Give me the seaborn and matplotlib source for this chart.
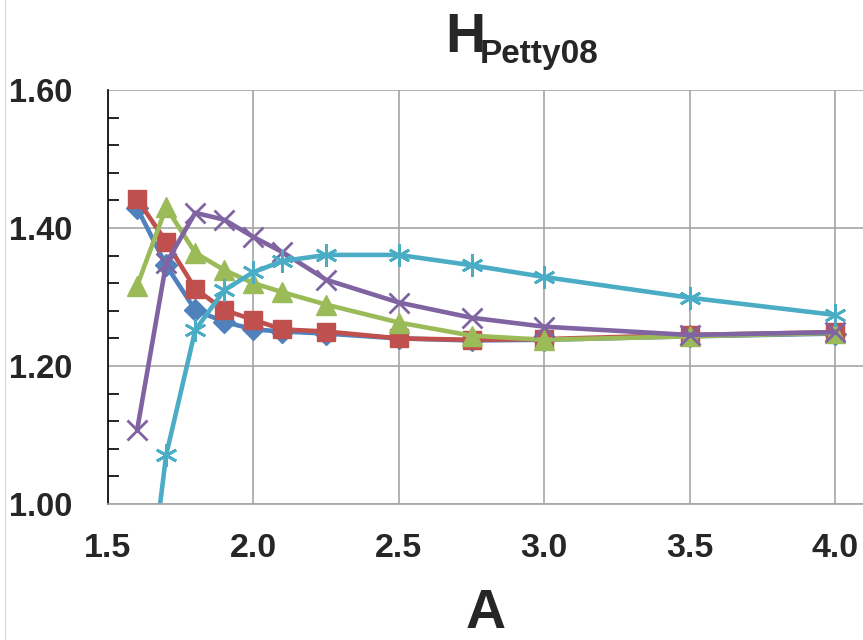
import matplotlib
matplotlib.use("Agg")
import matplotlib.pyplot as plt
import matplotlib.ticker as mticker
from matplotlib.lines import Line2D
import seaborn as sns

# valores
a_vals = [1.6, 1.7, 1.8, 1.9, 2.0, 2.1, 2.25, 2.5, 2.75, 3.0, 3.5, 4.0]
h_azul = [1.429, 1.346, 1.281, 1.264, 1.253, 1.250, 1.247, 1.240, 1.237, 1.238, 1.243, 1.247]
h_vermelho = [1.442, 1.380, 1.312, 1.281, 1.267, 1.253, 1.250, 1.240, 1.238, 1.239, 1.245, 1.249]
h_verde = [1.316, 1.430, 1.364, 1.339, 1.320, 1.307, 1.289, 1.263, 1.244, 1.238, 1.243, 1.248]
h_roxo = [1.107, 1.349, 1.422, 1.412, 1.387, 1.365, 1.325, 1.292, 1.270, 1.257, 1.245, 1.249]
h_ciano = [0.73, 1.071, 1.252, 1.310, 1.336, 1.352, 1.361, 1.361, 1.346, 1.329, 1.299, 1.274]

series = [
    (h_azul, "#4F81BD", "D", 11, 1),
    (h_vermelho, "#C0504D", "s", 12.5, 1),
    (h_verde, "#9BBB59", "^", 14, 1),
    (h_roxo, "#8064A2", "x", 15, 2),
    (h_ciano, "#4BACC6", (6, 2, 0), 16, 2),
]

sns.set_style("white")
plt.rcParams["font.family"] = ["Liberation Sans", "DejaVu Sans"]

fig = plt.figure(figsize=(8.63, 6.4), dpi=100)
ax = fig.add_axes([108 / 863, 1 - 504 / 640, 1 - 108 / 863, (504 - 90) / 640])

for vals, cor, marc, tam, esp in series:
    sns.lineplot(x=a_vals, y=vals, ax=ax, color=cor, marker=marc, markersize=tam,
                 markeredgecolor=cor, markerfacecolor=cor, markeredgewidth=esp,
                 linewidth=3.3, sort=False)

ax.set_xlim(1.5, 1.5 + (863 - 108) / 290.8)
ax.set_ylim(1.0, 1.6)
ax.xaxis.set_major_locator(mticker.MultipleLocator(0.5))
ax.xaxis.set_major_formatter(mticker.FormatStrFormatter("%.1f"))
ax.yaxis.set_major_locator(mticker.MultipleLocator(0.2))
ax.yaxis.set_minor_locator(mticker.MultipleLocator(0.04))
ax.yaxis.set_major_formatter(mticker.FormatStrFormatter("%.2f"))

ax.grid(True, which="major", color="#a6a6a6", linewidth=1.2)
ax.set_axisbelow(True)
for s in ["top", "right"]:
    ax.spines[s].set_visible(False)
ax.spines["left"].set_color("black")
ax.spines["left"].set_linewidth(1.2)
ax.spines["bottom"].set_color("#a6a6a6")
ax.spines["bottom"].set_linewidth(1.2)

ax.tick_params(axis="y", which="major", direction="inout", length=16, width=1.2,
               color="black", pad=18, labelsize=23.5)
ax.tick_params(axis="y", which="minor", direction="in", length=8, width=1.2,
               color="black", left=True)
ax.tick_params(axis="x", which="major", direction="out", length=8, width=1.2,
               color="#a6a6a6", pad=13, labelsize=24.5)
for lab in ax.get_xticklabels() + ax.get_yticklabels():
    lab.set_fontweight("bold")

# titulo H com subscrito
fig.text(445 / 863, 1 - 52 / 640, "H", fontsize=40, fontweight="bold",
         ha="left", va="baseline")
fig.text(480 / 863, 1 - 63 / 640, "Petty08", fontsize=24, fontweight="bold",
         ha="left", va="baseline")
fig.text(486 / 863, 1 - 628 / 640, "A", fontsize=40, fontweight="bold",
         ha="center", va="baseline")

fig.add_artist(Line2D([5 / 863, 5 / 863], [0, 1], color="#dddddd", linewidth=1))

fig.savefig("out.png", dpi=100)
